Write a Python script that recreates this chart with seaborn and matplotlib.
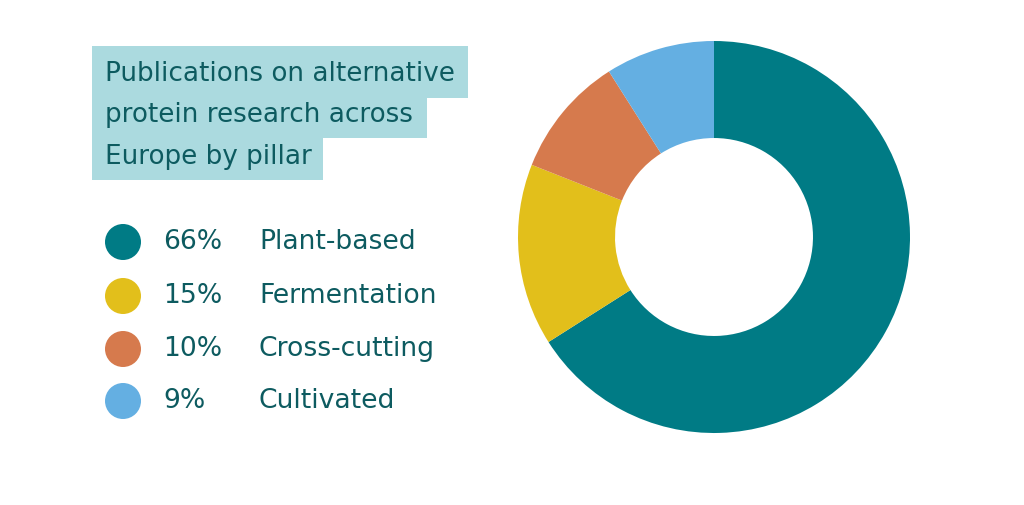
import matplotlib
matplotlib.use("Agg")
import matplotlib.pyplot as plt
import seaborn as sns
from matplotlib.patches import Rectangle, Circle

categories = ["Plant-based", "Fermentation", "Cross-cutting", "Cultivated"]
shares = [66, 15, 10, 9]
pct_labels = ["66%", "15%", "10%", "9%"]
colors = ["#007B85", "#E2BF1B", "#D67A4D", "#64AFE2"]
title_lines = ["Publications on alternative", "protein research across", "Europe by pillar"]

sns.set_style("white")
plt.rcParams["font.family"] = ["DejaVu Sans"]
text_color = "#0D5B60"
title_bg = "#ABDADF"

W, H = 1024, 505
fig = plt.figure(figsize=(W / 100, H / 100), dpi=100)
fig.patch.set_facecolor("white")

def fx(px):
    return px / W

def fy(py):
    return 1 - py / H

# Title with highlight per line
line_boxes = [(92, 46, 468, 98), (92, 98, 427, 138), (92, 138, 323, 180)]
line_text_y = [74, 115, 157]
for (x0, y0, x1, y1), t, ty in zip(line_boxes, title_lines, line_text_y):
    fig.patches.append(Rectangle((fx(x0), fy(y1)), fx(x1) - fx(x0), fy(y0) - fy(y1),
                                 transform=fig.transFigure, facecolor=title_bg,
                                 edgecolor="none", zorder=0))
    fig.text(fx(105), fy(ty), t, fontsize=18.9, color=text_color, va="center", ha="left")

# Legend
leg_y = [242, 296, 349, 401]
ax_leg = fig.add_axes([0, 0, 1, 1], zorder=1)
ax_leg.set_xlim(0, W)
ax_leg.set_ylim(H, 0)
ax_leg.set_axis_off()
for c, p, lab, y in zip(colors, pct_labels, categories, leg_y):
    ax_leg.add_patch(Circle((123, y), 18, facecolor=c, edgecolor="none"))
    ax_leg.text(163, y, p, fontsize=19.2, color=text_color, va="center", ha="left")
    ax_leg.text(259, y, lab, fontsize=19.2, color=text_color, va="center", ha="left")

# Donut
cx, cy, r = 714, 237, 196
ax = fig.add_axes([fx(cx - r), fy(cy + r), fx(2 * r), fy(cy - r) - fy(cy + r)], zorder=2)
ax.pie(shares, colors=colors, startangle=90, counterclock=False, radius=1,
       wedgeprops=dict(width=0.495, edgecolor="none", linewidth=0))
ax.set_xlim(-1, 1)
ax.set_ylim(-1, 1)
ax.set_aspect("equal")
ax.set_axis_off()

fig.savefig("out.png", dpi=100, facecolor="white")
